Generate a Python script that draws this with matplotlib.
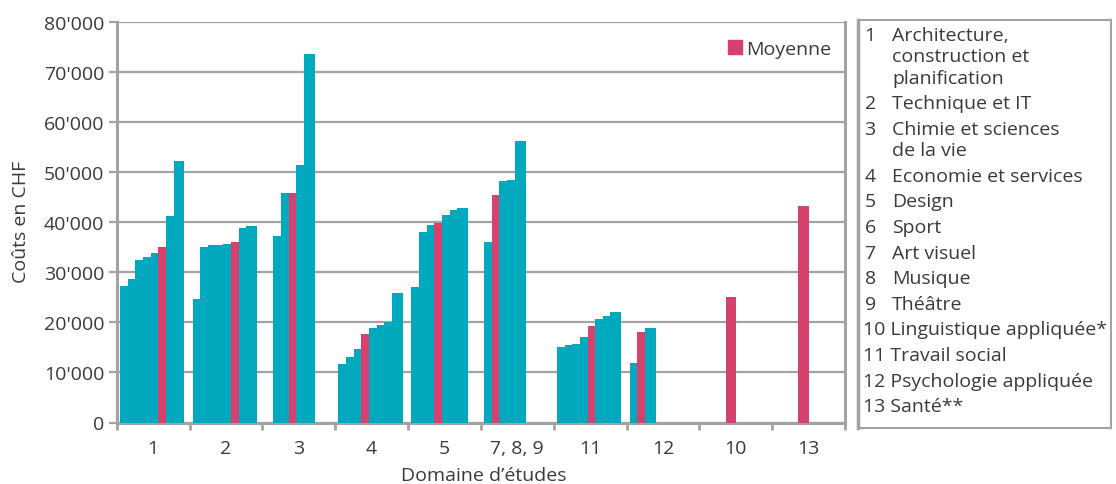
import numpy as np
import matplotlib.pyplot as plt
from matplotlib.patches import Patch
from matplotlib.ticker import FuncFormatter

plt.rcParams['font.family'] = ['Open Sans', 'DejaVu Sans']

# domain groups shown on the x axis
groups = ['1', '2', '3', '4', '5', '7, 8, 9', '11', '12', '10', '13']

# costs per group (None = empty slot), and which bar is the average
costs = [
    [27300, 28700, 32500, 33000, 33800, 35000, 41200, 52100],
    [24700, 35100, 35400, 35500, 35600, 36000, 38800, 39200],
    [None, 37200, 45800, 45800, 51400, 73500],
    [11700, 13000, 14700, 17700, 18800, 19500, 20000, 25800],
    [27100, 38000, 39400, 39800, 41400, 42400, 42800],
    [36000, 45400, 48100, 48400, 56200],
    [15000, 15500, 15700, 17100, 19200, 20600, 21300, 22100],
    [11800, 18000, 18900],
    [None, None, None, 25000],
    [None, None, None, 43200],
]
avg_idx = [5, 5, 3, 3, 3, 1, 4, 1, 3, 3]

domain_nums = ['1', '2', '3', '4', '5', '6', '7', '8', '9', '10', '11', '12', '13']
domain_names = ['Architecture,\nconstruction et\nplanification', 'Technique et IT',
                'Chimie et sciences\nde la vie', 'Economie et services', 'Design', 'Sport',
                'Art visuel', 'Musique', 'Théâtre', 'Linguistique appliquée*',
                'Travail social', 'Psychologie appliquée', 'Santé**']

teal = '#00a9bd'
pink = '#d6416d'
grey = '#a3a3a3'
txt = '#3a3a3a'
fs = 14

fig = plt.figure(figsize=(11.16, 4.85), dpi=100)
ax = fig.add_axes([116.7/1116, 1-423.5/485, (845-116.7)/1116, (423.5-22.5)/485])

step = 0.105   # overlap: bars are wider than the step
width = 0.15
off = 0.045
for g, vals in enumerate(costs):
    for k, v in enumerate(vals):
        if v is None:
            continue
        c = pink if k == avg_idx[g] else teal
        ax.bar(g + off + k*step, v, width=width, align='edge', color=c,
               linewidth=0, zorder=3 + k*0.01)

ax.set_xlim(0, len(groups))
ax.set_ylim(0, 80000)
ax.set_yticks(np.arange(0, 80001, 10000))
ax.yaxis.set_major_formatter(FuncFormatter(lambda v, p: f"{int(v):,}".replace(',', "'")))
ax.grid(axis='y', color=grey, linewidth=1.6, zorder=0)
ax.set_axisbelow(True)

ax.set_xticks(np.arange(len(groups)) + 0.5)
ax.set_xticklabels(groups)
ax.set_xticks(np.arange(len(groups) + 1), minor=True)
ax.tick_params(axis='x', which='major', length=0, pad=12, labelsize=fs, labelcolor=txt)
ax.tick_params(axis='x', which='minor', length=5, width=2, color=grey)
ax.tick_params(axis='y', length=6, width=1.6, color=grey, pad=3, labelsize=fs, labelcolor=txt)

for s in ['left', 'right', 'bottom']:
    ax.spines[s].set_color(grey)
    ax.spines[s].set_linewidth(2.2)
ax.spines['top'].set_visible(False)

fig.text(21/1116, 1-222/485, 'Coûts en CHF', fontsize=fs, color=txt, rotation=90,
         ha='center', va='center')
fig.text(484/1116, 1-476/485, 'Domaine d’études', fontsize=fs, color=txt,
         ha='center', va='center')

ax.legend(handles=[Patch(color=pink, label='Moyenne')], loc='upper right',
          bbox_to_anchor=(1.005, 0.998), frameon=False, fontsize=fs,
          handlelength=0.75, handleheight=0.75, handletextpad=0.2,
          labelcolor=txt)

# side box with domain names
bx = fig.add_axes([857.5/1116, 1-429/485, (1111-857.5)/1116, (429-20.5)/485])
bx.set_xticks([])
bx.set_yticks([])
for s in bx.spines.values():
    s.set_color(grey)
    s.set_linewidth(1.5)
bx.spines['left'].set_linewidth(2.5)
bx.set_xlim(0, 253.5)
bx.set_ylim(408.5, 0)

y = 20
for n, name in zip(domain_nums, domain_names):
    lines = name.split('\n')
    if len(n) == 1:
        bx.text(7, y, n, fontsize=fs, color=txt, va='baseline')
        for i, ln in enumerate(lines):
            bx.text(34.5, y + 21.5*i, ln, fontsize=fs, color=txt, va='baseline')
    else:
        bx.text(5.5, y, n + ' ' + name, fontsize=fs, color=txt, va='baseline')
    y += 25.6 + 21.5*(len(lines) - 1)

fig.savefig('out.png', dpi=100)
